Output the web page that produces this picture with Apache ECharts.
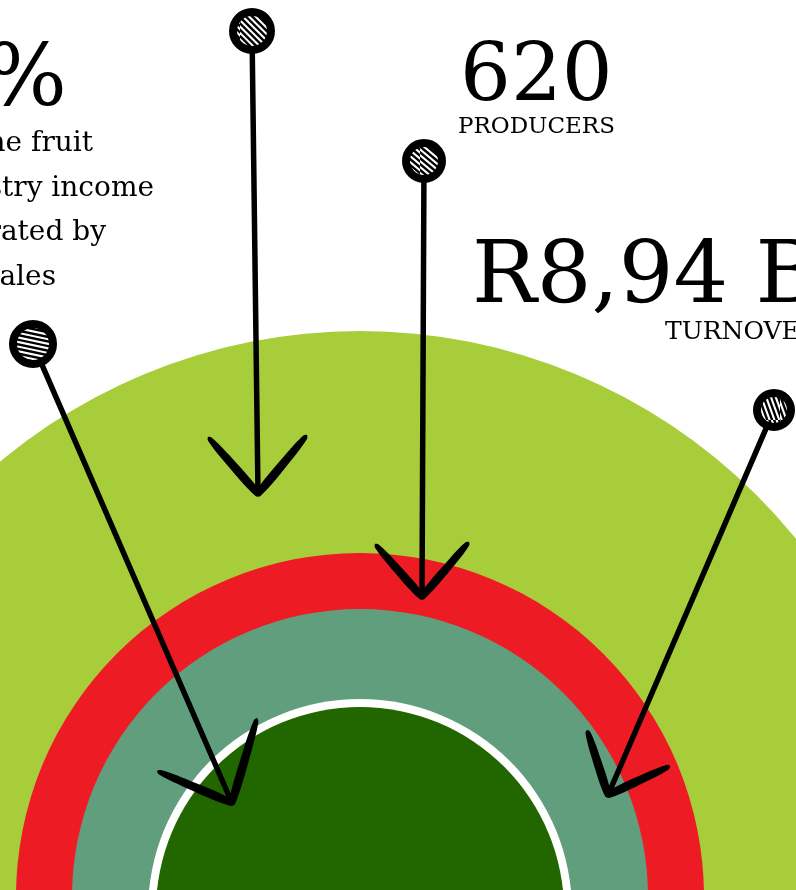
<!DOCTYPE html>
<html>
<head>
<meta charset="utf-8">
<title>Fruit industry infographic</title>
<script src="https://cdn.jsdelivr.net/npm/echarts@6/dist/echarts.min.js"></script>
<style>
  html, body { margin: 0; padding: 0; background: #ffffff; }
  #main { width: 796px; height: 890px; }
</style>
</head>
<body>
<div id="main"></div>
<script>
// rings of the target (outer -> inner), each one a full disc
var ringNames = ['Industry', 'Turnover', 'Producers', 'Rim', 'Core'];
var ringValues = [1, 1, 1, 1, 1];
var ringColors = ['#a8cd3a', '#ed1c24', '#619e7d', '#ffffff', '#226600'];

// headline figures
var statValues = ['40%', '620', 'R8,94 B'];
var statLabels = ['', 'PRODUCERS', 'TURNOVER'];
var noteLines = ['of the fruit', 'industry income', 'generated by', 'export sales'];

var chart = echarts.init(document.getElementById('main'), null, { renderer: 'canvas' });

// ring geometry [centerX, centerY, radius]
var ringGeo = [
    [360, 892, 561],
    [360, 897, 344],
    [360, 897, 288],
    [360, 911, 212],
    [360, 911, 204]
];

var series = ringNames.map(function (name, i) {
    return {
        name: name,
        type: 'pie',
        silent: true,
        center: [ringGeo[i][0], ringGeo[i][1]],
        radius: [0, ringGeo[i][2]],
        label: { show: false },
        labelLine: { show: false },
        itemStyle: { color: ringColors[i], borderWidth: 0 },
        emphasis: { disabled: true },
        data: [{ name: name, value: ringValues[i] }],
        z: i + 1
    };
});

// hatch fill for the pin heads
function makeHatch(angle) {
    var c = document.createElement('canvas');
    c.width = 60; c.height = 60;
    var ctx = c.getContext('2d');
    ctx.fillStyle = '#fff';
    ctx.fillRect(0, 0, 60, 60);
    ctx.translate(30, 30);
    ctx.rotate(angle * Math.PI / 180);
    ctx.strokeStyle = '#000';
    ctx.lineWidth = 2.4;
    for (var k = -42; k <= 42; k += 4.5) {
        ctx.beginPath();
        ctx.moveTo(-45, k);
        ctx.lineTo(45, k);
        ctx.stroke();
    }
    return c;
}

// pins: head, shaft end (arrow tip), arrow arms
var pins = [
    { head: [252, 31], r: 19, hatch: 45, tip: [258, 494], arms: [[208, 437], [307, 435]] },
    { head: [424, 161], r: 18, hatch: 40, tip: [422, 597], arms: [[375, 544], [469, 542]] },
    { head: [33, 344], r: 20, hatch: 12, tip: [232, 803], arms: [[157, 771], [257, 718]] },
    { head: [774, 410], r: 17, hatch: 70, tip: [608, 795], arms: [[587, 730], [670, 766]] }
];

function arm(from, to) {
    // tapered brush stroke from 'from' to 'to'
    var dx = to[0] - from[0], dy = to[1] - from[1];
    var len = Math.sqrt(dx * dx + dy * dy);
    var nx = -dy / len, ny = dx / len;
    var m = [from[0] + dx * 0.35, from[1] + dy * 0.35];
    var q = [from[0] + dx * 0.04, from[1] + dy * 0.04];
    return {
        type: 'polygon',
        z: 100,
        shape: {
            smooth: 0.3,
            points: [
                from,
                [q[0] + nx * 2.5, q[1] + ny * 2.5],
                [m[0] + nx * 4, m[1] + ny * 4],
                [to[0] + nx * 3.2, to[1] + ny * 3.2],
                [to[0] - nx * 3.2, to[1] - ny * 3.2],
                [m[0] - nx * 4, m[1] - ny * 4],
                [q[0] - nx * 2.5, q[1] - ny * 2.5]
            ]
        },
        style: { fill: '#000' }
    };
}

var graphics = [];
pins.forEach(function (p) {
    var dx = p.tip[0] - p.head[0], dy = p.tip[1] - p.head[1];
    var len = Math.sqrt(dx * dx + dy * dy);
    graphics.push({
        type: 'line', z: 100,
        shape: {
            x1: p.head[0] + dx / len * p.r, y1: p.head[1] + dy / len * p.r,
            x2: p.tip[0], y2: p.tip[1]
        },
        style: { stroke: '#000', lineWidth: 5.5, lineCap: 'round' }
    });
    graphics.push(arm(p.arms[0], p.tip));
    graphics.push(arm(p.arms[1], p.tip));
    graphics.push({
        type: 'circle', z: 101,
        shape: { cx: p.head[0], cy: p.head[1], r: p.r },
        style: { fill: { image: makeHatch(p.hatch), repeat: 'repeat' }, stroke: '#000', lineWidth: 8 }
    });
});

var serif = '"DejaVu Serif", serif';

// big figures
graphics.push({
    type: 'text', z: 110,
    style: { text: statValues[0], x: 67, y: 83, textAlign: 'right', textVerticalAlign: 'middle',
        font: '86px ' + serif, fill: '#000' }
});
graphics.push({
    type: 'text', z: 110,
    style: { text: statValues[1], x: 460, y: 79, textAlign: 'left', textVerticalAlign: 'middle',
        font: '80px ' + serif, fill: '#000' }
});
graphics.push({
    type: 'text', z: 110,
    style: { text: statLabels[1], x: 458, y: 127, textAlign: 'left', textVerticalAlign: 'middle',
        font: '23px ' + serif, fill: '#000' }
});
graphics.push({
    type: 'text', z: 110,
    style: { text: statValues[2], x: 472, y: 280, textAlign: 'left', textVerticalAlign: 'middle',
        font: '86px ' + serif, fill: '#000' }
});
graphics.push({
    type: 'text', z: 110,
    style: { text: statLabels[2], x: 665, y: 332, textAlign: 'left', textVerticalAlign: 'middle',
        font: '25px ' + serif, fill: '#000' }
});

// note under the percentage, cut by the left edge
var noteEnds = [93, 154, 106, 56];
noteLines.forEach(function (t, i) {
    graphics.push({
        type: 'text', z: 110,
        style: { text: t, x: noteEnds[i], y: 144 + i * 44.5, textAlign: 'right', textVerticalAlign: 'middle',
            font: '28px ' + serif, fill: '#000' }
    });
});

chart.setOption({
    animation: false,
    backgroundColor: '#ffffff',
    series: series,
    graphic: graphics
});
</script>
</body>
</html>
